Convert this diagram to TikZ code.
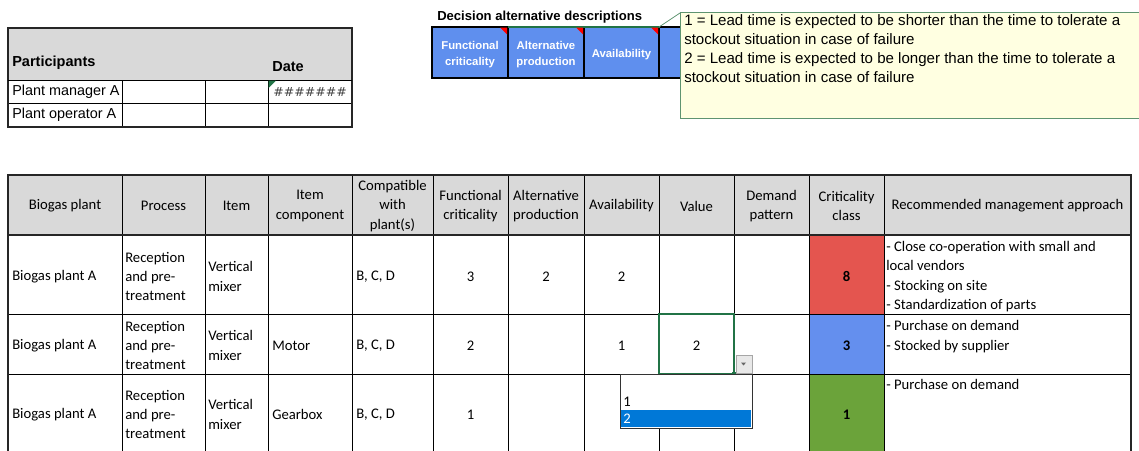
\documentclass[tikz,border=0pt]{standalone}
\usepackage{fontspec}
\setmainfont{Carlito}
\newfontfamily\tahoma{Liberation Sans}
\newfontfamily\hashfont{DejaVu Sans}
\usetikzlibrary{positioning}

\definecolor{hdrgray}{HTML}{D9D9D9}
\definecolor{decblue}{HTML}{5F8FEE}
\definecolor{critred}{HTML}{E4554F}
\definecolor{critblue}{HTML}{648FEE}
\definecolor{critgreen}{HTML}{6BA33A}
\definecolor{xlgreen}{HTML}{217346}
\definecolor{notefill}{HTML}{FFFFE1}
\definecolor{noteline}{HTML}{5E9470}
\definecolor{selblue}{HTML}{0078D7}

\begin{document}
\begin{tikzpicture}[x=0.75pt,y=-0.75pt,
  txt/.style={inner sep=0pt,font=\fontsize{11}{14.6}\selectfont,align=center},
  ltxt/.style={txt,anchor=west,align=left},
  ttxt/.style={inner sep=0pt,font=\tahoma\fontsize{10.8}{14.2}\selectfont,anchor=west},
  tbold/.style={ttxt,font=\tahoma\bfseries\fontsize{10.9}{12}\selectfont},
  dbox/.style={inner sep=0pt,font=\tahoma\bfseries\fontsize{8.5}{12.6}\selectfont,text=white,align=center},
  grid/.style={line width=0.6pt},
  frame/.style={line width=1.4pt,black!85}]
\useasboundingbox (0,0) rectangle (1139,450);

% participants table
\fill[hdrgray] (8,28) rectangle (352,80);
\draw[grid] (8,103) -- (352,103);
\foreach \cx in {122,205,268}
  \draw[grid] (\cx,80) -- (\cx,127);
\draw[frame] (8,28) rectangle (352,127);
\draw[grid] (8,80) -- (352,80);
\node[tbold] (part) at (12,63) {Participants};
\node[tbold] (date) at (272,67) {Date};
\node[ttxt] (mgr) at (12,92) {Plant manager A};
\node[ttxt] (opr) at (12,115) {Plant operator A};
\node[ttxt,font=\hashfont\fontsize{9.4}{12}\selectfont,text=black!75] (hash) at (273,92) {\#\#\#\#\#\#\#};
\fill[xlgreen] (268.5,80.5) -- (276,80.5) -- (268.5,88) -- cycle;

% decision alternative descriptions
\node[inner sep=0pt,anchor=west,font=\tahoma\bfseries\fontsize{9.8}{10}\selectfont] (dtitle) at (437,17) {Decision alternative descriptions};
\fill[decblue] (432,27) rectangle (684,78);
\foreach \cx in {508,584,659}
  \draw[line width=1.2pt] (\cx,27) -- (\cx,78);
\draw[line width=1.4pt] (684,27) -- (432,27) -- (432,78) -- (684,78);
\draw[xlgreen,line width=1.2pt] (508,27) -- (660,27);
\foreach \cx in {508,584,659}
  \fill[red] (\cx-8,27.5) -- (\cx-1,27.5) -- (\cx-1,34.5) -- cycle;
\node[dbox] (fc) at (470,54.5) {Functional\\criticality};
\node[dbox] (ap) at (546,54.5) {Alternative\\production};
\node[dbox] (av) at (621.5,54.5) {Availability};

% comment box
\coordinate (tip) at (659,27);
\draw[noteline,fill=notefill,line width=0.7pt] (680,12) rectangle (1145,118);
\coordinate (notecorner) at (680,13);
\draw[noteline,line width=0.6pt] (tip) -- (notecorner);
\node[inner sep=0pt,anchor=north west,align=left,font=\tahoma\fontsize{11.3}{14.25}\selectfont] (note) at (684,14)
  {1 = Lead time is expected to be shorter than the time to tolerate a\\
   stockout situation in case of failure\\
   2 = Lead time is expected to be longer than the time to tolerate a\\
   stockout situation in case of failure};

% main table
\fill[hdrgray] (8,175) rectangle (1131,235);
\fill[critred] (809,235) rectangle (884,314);
\fill[critblue] (809,314) rectangle (884,374);
\fill[critgreen] (809,374) rectangle (884,460);
\foreach \ry in {314,374}
  \draw[grid] (8,\ry) -- (1131,\ry);
\foreach \cx in {122,205,268,352,433,508,584,659,734,809,884}
  \draw[grid] (\cx,175) -- (\cx,460);
\draw[frame] (8,460) -- (8,175) -- (1131,175) -- (1131,460);
\draw[frame] (8,235) -- (1131,235);

\foreach \cx/\name/\label in {65/hbio/{Biogas plant},163.5/hproc/{Process},236.5/hitem/{Item},
    310/hcomp/{Item\\component},392.5/hcompat/{Compatible\\with\\plant(s)},
    470.5/hfc/{Functional\\criticality},546/hap/{Alternative\\production},
    621.5/hav/{Availability},696.5/hval/{Value},771.5/hdem/{Demand\\pattern},
    846.5/hcls/{Criticality\\class},1007.5/hrec/{Recommended management approach}}
  \node[txt] (\name) at (\cx,206) {\label};

\foreach \r/\ry/\comp in {1/276.5/{},2/345.5/Motor,3/414.5/Gearbox}{
  \node[ltxt] (bio\r) at (12,\ry) {Biogas plant A};
  \node[ltxt] (proc\r) at (125,\ry) {Reception\\and pre-\\treatment};
  \node[ltxt] (item\r) at (208,\ry) {Vertical\\mixer};
  \node[ltxt] (comp\r) at (272,\ry) {\comp};
  \node[ltxt] (compat\r) at (356,\ry) {B, C, D};
}
\node[txt] (fc1) at (470.5,276.5) {3};
\node[txt] (ap1) at (546,276.5) {2};
\node[txt] (av1) at (621.5,276.5) {2};
\node[txt] (fc2) at (470.5,345.5) {2};
\node[txt] (av2) at (621.5,345.5) {1};
\node[txt] (val2) at (696.5,345.5) {2};
\node[txt] (fc3) at (470.5,414.5) {1};
\node[txt,font=\bfseries\fontsize{11}{14.6}\selectfont] (cls1) at (846.5,276.5) {8};
\node[txt,font=\bfseries\fontsize{11}{14.6}\selectfont] (cls2) at (846.5,345.5) {3};
\node[txt,font=\bfseries\fontsize{11}{14.6}\selectfont] (cls3) at (846.5,414.5) {1};
\node[txt,anchor=north west,align=left] (rec1) at (886,241)
  {- Close co-operation with small and\\local vendors\\- Stocking on site\\- Standardization of parts};
\node[txt,anchor=north west,align=left] (rec2) at (886,320.5)
  {- Purchase on demand\\- Stocked by supplier};
\node[txt,anchor=north west,align=left] (rec3) at (886,379.5)
  {- Purchase on demand};

% selected cell with drop-down
\draw[xlgreen,line width=1.2pt] (659,314) rectangle (734,374);
\fill[xlgreen] (732,372) rectangle (736,376);
\draw[gray!70,fill=gray!18,line width=0.6pt] (736,355) rectangle (752,373);
\fill[black!60] (741,362.5) -- (746,362.5) -- (743.5,365.5) -- cycle;
\draw[black!80,fill=white,line width=0.7pt] (620,374) rectangle (752,428);
\fill[selblue] (621,410) rectangle (751,427);
\node[txt,anchor=west] (opt1) at (623,401.5) {1};
\node[txt,anchor=west,text=white] (opt2) at (623,419) {2};
\end{tikzpicture}
\end{document}
